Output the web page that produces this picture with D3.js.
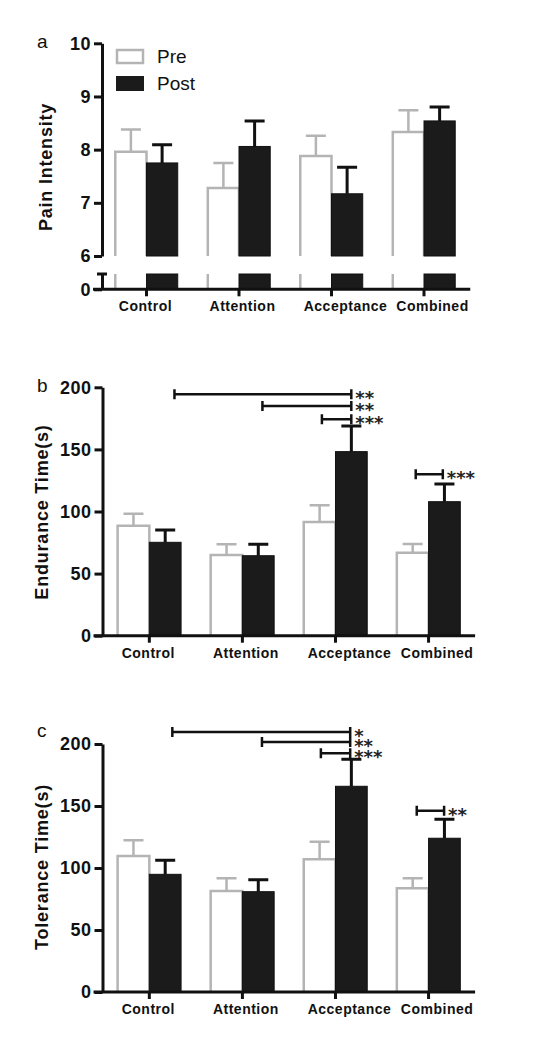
<!DOCTYPE html>
<html><head><meta charset="utf-8">
<script src="https://cdn.jsdelivr.net/npm/d3@7"></script>
<style>body{margin:0;background:#fff}svg{display:block}</style>
</head><body>
<script>
// ---------- data ----------
const categories = ["Control", "Attention", "Acceptance", "Combined"];
const seriesNames = ["Pre", "Post"];

const painPre = [7.96, 7.28, 7.88, 8.33];
const painPreSem = [0.42, 0.47, 0.38, 0.41];
const painPost = [7.75, 8.06, 7.17, 8.54];
const painPostSem = [0.34, 0.48, 0.50, 0.26];
const painTicks = [6, 7, 8, 9, 10];
const painLowTicks = [0];

const endurancePre = [88.6, 65.0, 91.5, 66.8];
const endurancePreSem = [9.6, 8.6, 13.5, 7.0];
const endurancePost = [75.2, 64.4, 148.2, 107.9];
const endurancePostSem = [9.9, 9.2, 20.6, 14.2];

const tolerancePre = [109.7, 81.5, 107.0, 83.6];
const tolerancePreSem = [12.6, 10.2, 14.2, 8.1];
const tolerancePost = [94.9, 80.9, 165.9, 124.0];
const tolerancePostSem = [11.3, 9.7, 21.8, 15.3];

const timeTicks = [0, 50, 100, 150, 200];

// significance brackets: [from (category position), to (category position), height (value), label]
const enduranceSig = [
  [0.27, 2.17, 194.4, "**"],
  [1.215, 2.17, 185.0, "**"],
  [1.854, 2.17, 174.2, "***"],
  [2.862, 3.153, 130.0, "***"]
];
const toleranceSig = [
  [0.247, 2.158, 209.7, "*"],
  [1.21, 2.158, 201.6, "**"],
  [1.843, 2.158, 192.5, "***"],
  [2.873, 3.167, 146.2, "**"]
];

// ---------- styles ----------
const FONT = "'Liberation Sans', Arial, sans-serif";
const PRE_COLOR = "#b4b4b4";
const POST_COLOR = "#1b1b1b";
const labelShift = [-1, 3.5, 14, 8.5];

const svg = d3.select("body").append("svg")
  .attr("width", 540).attr("height", 1050)
  .style("background", "#fff");

function styleAxis(sel) {
  sel.select(".domain").attr("stroke", "#111").attr("stroke-width", 3);
  sel.selectAll(".tick line").attr("stroke", "#111").attr("stroke-width", 3);
  sel.selectAll(".tick text")
    .attr("fill", "#111")
    .style("font-family", FONT).style("font-weight", "bold")
    .style("font-size", "18px").style("letter-spacing", "0.5px");
}

function drawPanel(cfg) {
  const g = svg.append("g");
  const x = d3.scaleBand().domain(categories).range(cfg.xRange)
    .paddingInner(cfg.padIn).paddingOuter(cfg.padIn / 2);
  const sub = d3.scaleBand().domain(seriesNames).range([0, x.bandwidth()]);
  const y = d3.scaleLinear().domain(cfg.yDomain).range(cfg.yRange);
  const base = cfg.yRange[0];
  const xBase = cfg.broken ? cfg.lowRange[0] : base;
  const ax = cfg.axisX;
  const bw = sub.bandwidth();
  const center = (c, s) => x(c) + sub(s) + bw / 2;
  const pos = p => x(categories[0]) + x.bandwidth() / 2 + p * x.step();
  const fmt = d3.format("d");

  // pre bars (open at bottom)
  g.selectAll(".pre").data(categories).join("path")
    .attr("d", (c, i) => {
      const l = x(c) + sub("Pre"), r = l + bw, t = y(cfg.pre[i]);
      return `M${l},${base}V${t}H${r}V${base}`;
    })
    .attr("fill", "#fff").attr("stroke", PRE_COLOR).attr("stroke-width", 2.5);
  // pre error bars
  g.selectAll(".preErr").data(categories).join("path")
    .attr("d", (c, i) => {
      const cx = center(c, "Pre"), t = y(cfg.pre[i]), e = y(cfg.pre[i] + cfg.preSem[i]);
      return `M${cx},${t}V${e}M${cx - 10},${e}H${cx + 10}`;
    })
    .attr("fill", "none").attr("stroke", PRE_COLOR).attr("stroke-width", 2.5);
  // post bars
  g.selectAll(".post").data(categories).join("rect")
    .attr("x", c => x(c) + sub("Post"))
    .attr("width", bw)
    .attr("y", (c, i) => y(cfg.post[i]))
    .attr("height", (c, i) => base - y(cfg.post[i]))
    .attr("fill", POST_COLOR).attr("stroke", "#111").attr("stroke-width", 1);
  g.selectAll(".postErr").data(categories).join("path")
    .attr("d", (c, i) => {
      const cx = center(c, "Post"), t = y(cfg.post[i]), e = y(cfg.post[i] + cfg.postSem[i]);
      return `M${cx},${t}V${e}M${cx - 10},${e}H${cx + 10}`;
    })
    .attr("fill", "none").attr("stroke", "#111").attr("stroke-width", 3);

  // y axis
  const yAx = g.append("g").attr("transform", `translate(${ax},0)`)
    .call(d3.axisLeft(y).tickValues(cfg.ticks).tickFormat(fmt)
      .tickSize(8).tickSizeOuter(0).tickPadding(3));
  styleAxis(yAx);

  if (cfg.broken) {
    const yLow = d3.scaleLinear().domain([0, 1]).range(cfg.lowRange);
    const lowTop = cfg.lowRange[1];
    g.selectAll(".preLow").data(categories).join("line")
      .attr("x1", c => x(c) + sub("Pre")).attr("x2", c => x(c) + sub("Pre"))
      .attr("y1", lowTop).attr("y2", cfg.lowRange[0])
      .attr("stroke", PRE_COLOR).attr("stroke-width", 2.5);
    g.selectAll(".postLow").data(categories).join("rect")
      .attr("x", c => x(c) + sub("Post")).attr("width", bw)
      .attr("y", lowTop).attr("height", cfg.lowRange[0] - lowTop)
      .attr("fill", POST_COLOR).attr("stroke", "#111").attr("stroke-width", 1);
    const lowAx = g.append("g").attr("transform", `translate(${ax},0)`)
      .call(d3.axisLeft(yLow).tickValues(painLowTicks).tickFormat(fmt)
        .tickSize(8).tickSizeOuter(0).tickPadding(3));
    styleAxis(lowAx);
    g.append("line").attr("x1", ax - 5).attr("x2", ax + 5)
      .attr("y1", lowTop).attr("y2", lowTop)
      .attr("stroke", "#111").attr("stroke-width", 3);
  }

  // x axis
  g.append("line").attr("x1", ax - 9).attr("x2", cfg.xRange[1])
    .attr("y1", xBase).attr("y2", xBase).attr("stroke", "#111").attr("stroke-width", 3);
  g.selectAll(".xt").data(categories).join("line")
    .attr("x1", c => x(c) + x.bandwidth() / 2).attr("x2", c => x(c) + x.bandwidth() / 2)
    .attr("y1", xBase).attr("y2", xBase + 7)
    .attr("stroke", "#111").attr("stroke-width", 3);
  g.selectAll(".xl").data(categories).join("text")
    .attr("x", (c, i) => x(c) + x.bandwidth() / 2 + labelShift[i])
    .attr("y", xBase + 22)
    .attr("text-anchor", "middle")
    .attr("fill", "#111")
    .style("font-family", FONT).style("font-weight", "bold")
    .style("font-size", "14px").style("letter-spacing", "0.5px")
    .text(c => c);

  // y title
  g.append("text")
    .attr("transform", `translate(${cfg.titleX},${cfg.titleY}) rotate(-90)`)
    .attr("text-anchor", "middle").attr("fill", "#111")
    .style("font-family", FONT).style("font-weight", "bold")
    .style("font-size", "18px").style("letter-spacing", "0.8px")
    .text(cfg.title);

  // panel letter
  g.append("text").attr("x", 37).attr("y", cfg.letterY)
    .attr("fill", "#111")
    .style("font-family", FONT).style("font-size", "19px")
    .text(cfg.letter);

  // significance brackets
  if (cfg.sig) {
    g.selectAll(".sig").data(cfg.sig).join("path")
      .attr("d", d => {
        const x1 = pos(d[0]), x2 = pos(d[1]), yy = y(d[2]);
        return `M${x1},${yy}H${x2}M${x1},${yy - 5}V${yy + 5}M${x2},${yy - 5}V${yy + 5}`;
      })
      .attr("fill", "none").attr("stroke", "#111").attr("stroke-width", 2.5);
    // stacked star labels share one text element
    g.append("text")
      .attr("fill", "#222")
      .style("font-family", "'DejaVu Sans', sans-serif")
      .style("font-weight", "bold").style("font-size", "18px")
      .selectAll("tspan").data(cfg.sig).join("tspan")
      .attr("x", d => pos(d[1]) + 4)
      .attr("y", d => y(d[2]) + 10)
      .text(d => d[3]);
  }

  // legend
  if (cfg.legend) {
    const lg = g.append("g");
    lg.append("rect").attr("x", 117).attr("y", 50).attr("width", 26).attr("height", 13)
      .attr("fill", "#fff").attr("stroke", PRE_COLOR).attr("stroke-width", 2.5);
    lg.append("rect").attr("x", 116).attr("y", 76).attr("width", 28).attr("height", 15)
      .attr("fill", POST_COLOR);
    lg.selectAll("text").data(seriesNames).join("text")
      .attr("x", 157).attr("y", (d, i) => 63 + i * 27)
      .attr("fill", "#111")
      .style("font-family", FONT).style("font-size", "19px")
      .text(d => d);
  }
}

drawPanel({
  letter: "a", letterY: 48, title: "Pain Intensity", titleX: 52, titleY: 167,
  xRange: [100.25, 470.25], padIn: 0.325, axisX: 102,
  yDomain: [6, 10], yRange: [256, 43.3], ticks: painTicks,
  broken: true, lowRange: [289.3, 274],
  pre: painPre, preSem: painPreSem, post: painPost, postSem: painPostSem,
  legend: true
});
drawPanel({
  letter: "b", letterY: 392, title: "Endurance Time(s)", titleX: 48, titleY: 512,
  xRange: [102.8, 475.1], padIn: 0.318, axisX: 102.5,
  yDomain: [0, 200], yRange: [635.7, 387.3], ticks: timeTicks,
  pre: endurancePre, preSem: endurancePreSem, post: endurancePost, postSem: endurancePostSem,
  sig: enduranceSig
});
drawPanel({
  letter: "c", letterY: 737, title: "Tolerance Time(s)", titleX: 48, titleY: 867,
  xRange: [102.8, 475.1], padIn: 0.318, axisX: 102.5,
  yDomain: [0, 200], yRange: [992, 744], ticks: timeTicks,
  pre: tolerancePre, preSem: tolerancePreSem, post: tolerancePost, postSem: tolerancePostSem,
  sig: toleranceSig
});
</script>
</body></html>
